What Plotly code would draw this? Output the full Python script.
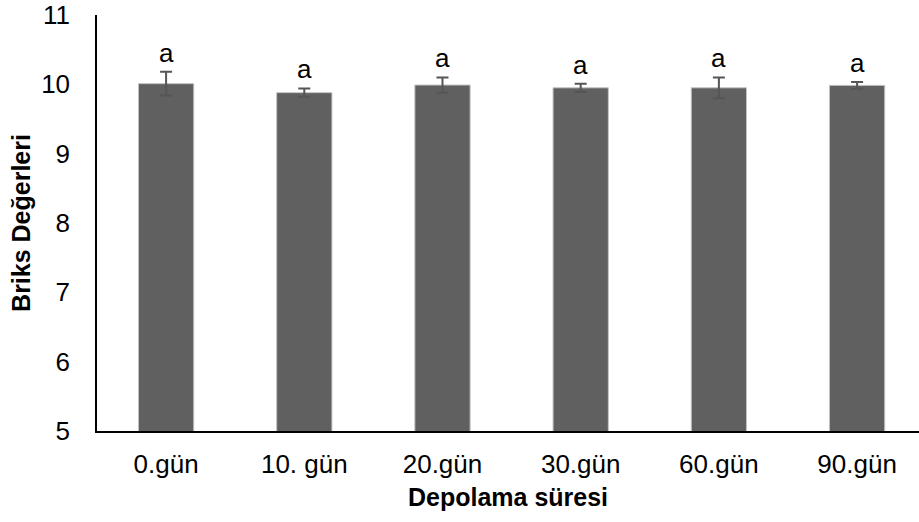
import plotly.graph_objects as go

categories = ["0.gün", "10. gün", "20.gün", "30.gün", "60.gün", "90.gün"]
values = [10.01, 9.88, 9.99, 9.95, 9.95, 9.985]
errors = [0.17, 0.06, 0.11, 0.06, 0.15, 0.05]
letters = ["a", "a", "a", "a", "a", "a"]

FONT = "Liberation Sans, Arial, sans-serif"

fig = go.Figure()
fig.add_trace(go.Bar(
    x=categories, y=values,
    marker=dict(color="#606060", line=dict(color="#c4c4c4", width=1)),
    error_y=dict(type="data", array=errors, visible=True, color="#555555", thickness=2, width=6),
    width=0.4,
))

for c, v, e, t in zip(categories, values, errors, letters):
    fig.add_annotation(x=c, y=v + e, text=t, showarrow=False, yanchor="middle", yshift=19,
                       font=dict(family=FONT, size=26, color="black"))

fig.update_layout(
    width=919, height=522,
    margin=dict(l=97, r=0, t=15, b=91),
    plot_bgcolor="white", paper_bgcolor="white",
    showlegend=False,
    font=dict(family=FONT, size=26, color="black"),
    xaxis=dict(
        range=[-0.5, 5.448],
        showline=True, linecolor="black", linewidth=1.5,
        ticks="", showgrid=False, ticklabelstandoff=9,
        title=dict(text="<b>Depolama süresi</b>", font=dict(family=FONT, size=25), standoff=11),
    ),
    yaxis=dict(
        range=[5, 11], dtick=1,
        showline=True, linecolor="black", linewidth=1.5,
        ticks="", showgrid=False, zeroline=False, ticklabelstandoff=20,
        title=dict(text="<b>Briks Değerleri</b>", font=dict(family=FONT, size=25), standoff=3),
    ),
)

fig.write_html("out.html")
